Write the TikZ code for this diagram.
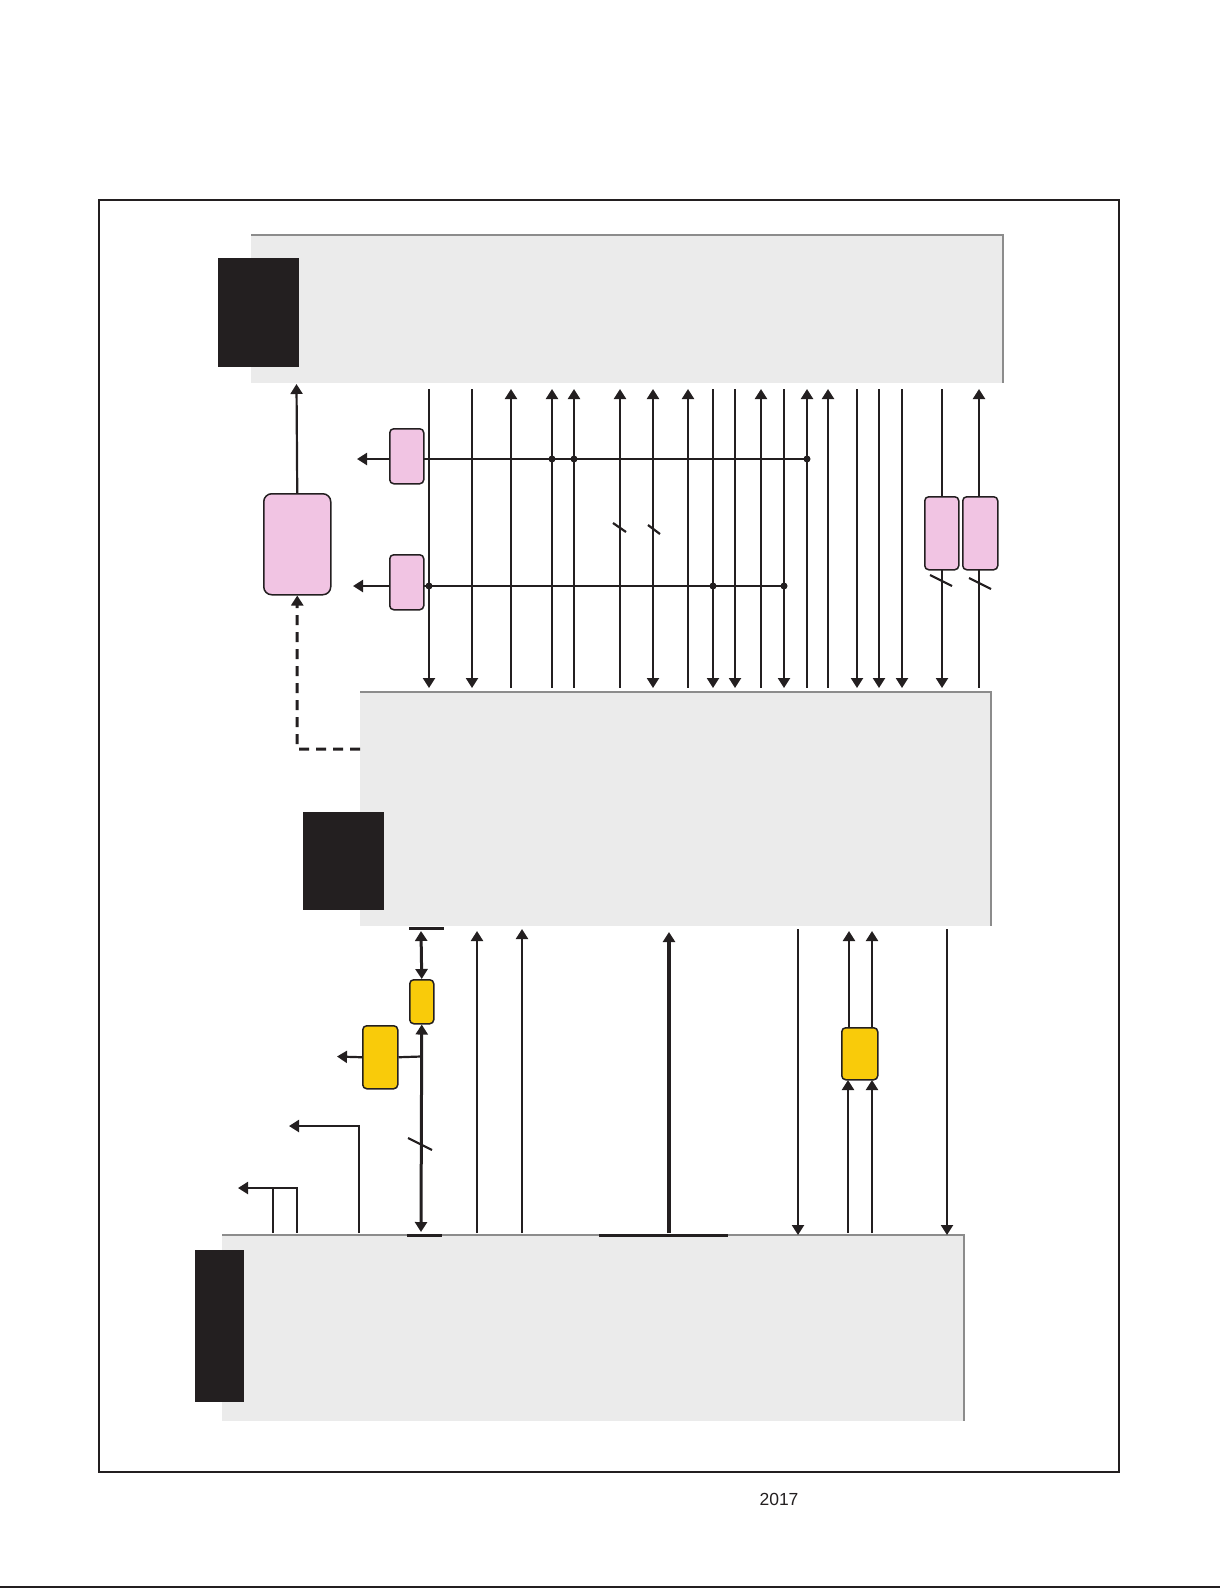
\documentclass[tikz,border=0pt]{standalone}
\usepackage{fontspec}
\setmainfont{Liberation Sans}
\usetikzlibrary{arrows.meta}
\definecolor{pinkf}{HTML}{F1C4E3}
\definecolor{yel}{HTML}{F9CB0A}
\definecolor{ink}{HTML}{231F20}
\definecolor{panel}{HTML}{EBEBEB}
\definecolor{edgeg}{HTML}{8C8C8C}
\begin{document}
\begin{tikzpicture}[x=1pt,y=-1pt,
  >={Triangle[width=12pt,length=10pt]},
  panelbox/.style={fill=panel,draw=none,inner sep=0pt,anchor=north west},
  blk/.style={fill=ink,draw=none,inner sep=0pt,anchor=north west},
  pinkbox/.style={fill=pinkf,draw=ink,line width=1.5pt,rounded corners=4pt,inner sep=0pt,anchor=north west},
  yelbox/.style={fill=yel,draw=ink,line width=1.5pt,rounded corners=4pt,inner sep=0pt,anchor=north west},
  wire/.style={draw=ink,line width=2.2pt},
  heavy/.style={draw=ink,line width=3pt},
  paneledge/.style={draw=edgeg,line width=2pt}]
\useasboundingbox (0,0) rectangle (1220,1588);
% frame and page line
\draw[ink,line width=1.2pt] (99,200) rectangle (1119,1472);
\draw[ink,line width=2pt] (0,1587) -- (1220,1587);
\node[font=\fontsize{17.5}{20}\selectfont,text=ink] (yr) at (779,1499) {2017};
% panels
\node[panelbox,minimum width=752pt,minimum height=148pt] (top) at (251,235) {};
\draw[paneledge] (top.north west) -- (top.north east) -- (top.south east);
\node[blk,minimum width=81pt,minimum height=109pt] (topk) at (218,258) {};
\node[panelbox,minimum width=631pt,minimum height=234pt] (mid) at (360,692) {};
\draw[paneledge] (mid.north west) -- (mid.north east) -- (mid.south east);
\node[blk,minimum width=81pt,minimum height=98pt] (midk) at (303,812) {};
\node[panelbox,minimum width=742pt,minimum height=186pt] (bot) at (222,1235) {};
\draw[paneledge] (bot.north west) -- (bot.north east) -- (bot.south east);
\node[blk,minimum width=49pt,minimum height=152pt] (botk) at (195,1250) {};
% vertical bus between top and middle
\foreach \x in {511,552,574,620,688,761,807,828,979}
  \draw[wire,<-] (\x,389) -- (\x,688);
\foreach \x in {429,472,713,735,784,857,879,902,942}
  \draw[wire,->] (\x,389) -- (\x,688);
\draw[wire,<->] (653,389) -- (653,688);
% horizontal lines with junctions
\draw[wire] (423,459) -- (807,459);
\draw[wire] (423,586) -- (784,586);
\foreach \x in {552,574,807} \fill[ink] (\x,459) circle[radius=3.5pt];
\foreach \x in {429,713,784} \fill[ink] (\x,586) circle[radius=3.5pt];
% slashes
\draw[wire] (613,523) -- (626,532);
\draw[wire] (648,525) -- (660,534);
\draw[wire] (930,575) -- (952,586);
\draw[wire] (969,578) -- (991,589);
% pink boxes
\node[pinkbox,minimum width=34pt,minimum height=55pt] (p1) at (389,428) {};
\node[pinkbox,minimum width=34pt,minimum height=55pt] (p2) at (389,554) {};
\draw[wire,->] (389,459) -- (357,459);
\draw[wire,->] (389,586) -- (353,586);
\node[pinkbox,minimum width=34pt,minimum height=73pt] (pa) at (924,496) {};
\node[pinkbox,minimum width=35pt,minimum height=73pt] (pb) at (962,496) {};
\node[pinkbox,rounded corners=8pt,minimum width=67pt,minimum height=101pt] (bp) at (263,493) {};
\draw[wire,->] (bp.north) -- (296.5,384);
\draw[ink,line width=3pt,dash pattern=on 10pt off 7pt,->] (360,749) -- (297,749) -- (bp.south);
% lower section
\draw[heavy] (409,928) -- (444,928);
\draw[heavy] (407,1235) -- (442,1235);
\node[yelbox,minimum width=24pt,minimum height=44pt] (y1) at (409,979) {};
\draw[heavy,<->] (421,931) -- (y1.north);
\draw[heavy,<->] (y1.south) -- (421,1232);
\draw[wire] (408,1138) -- (432,1150);
\node[yelbox,minimum width=35pt,minimum height=63pt] (y2) at (362,1025) {};
\draw[wire] (y2.east) -- (421,1056.5);
\draw[wire,->] (y2.west) -- (337,1056.5);
\draw[wire,->] (359,1233) -- (359,1126) -- (289,1126);
\draw[wire] (273,1233) -- (273,1188) -- (297,1188) -- (297,1233);
\draw[wire,->] (273,1188) -- (238,1188);
\draw[wire,->] (477,1233) -- (477,931);
\draw[wire,->] (522,1233) -- (522,929);
\draw[ink,line width=4pt,->] (669,1233) -- (669,932);
\draw[heavy] (599,1235) -- (728,1235);
\draw[wire,->] (798,929) -- (798,1235);
\node[yelbox,minimum width=36pt,minimum height=52pt] (y3) at (841,1027) {};
\draw[wire,->] (849,1027) -- (849,931);
\draw[wire,->] (872,1027) -- (872,931);
\draw[wire,->] (848,1233) -- (848,1080);
\draw[wire,->] (872,1233) -- (872,1080);
\draw[wire,->] (947,929) -- (947,1235);
\end{tikzpicture}
\end{document}
